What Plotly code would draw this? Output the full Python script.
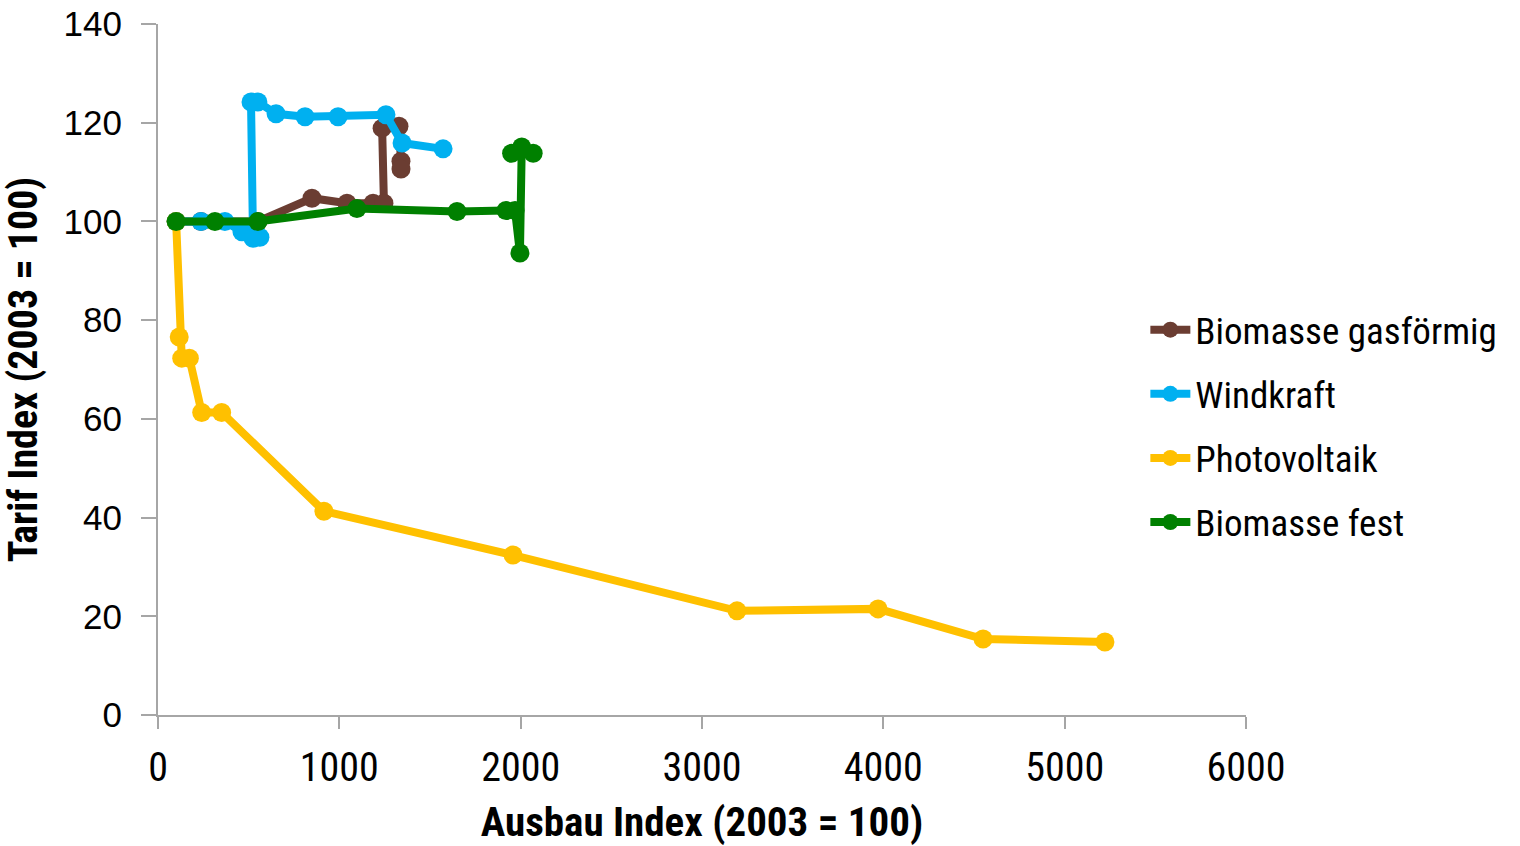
import plotly.graph_objects as go

# Ausbau-Index (x) und Tarif-Index (y), jeweils 2003 = 100
bio_gas_x = [100, 237, 551, 849, 1042, 1186, 1246, 1236, 1329, 1340, 1340]
bio_gas_y = [100, 100, 100, 104.7, 103.7, 103.7, 103.7, 118.9, 119.3, 112.2, 110.6]

wind_x = [100, 237, 369, 463, 562, 524, 513, 551, 651, 811, 993, 1257, 1346, 1572]
wind_y = [100, 100, 100, 97.9, 96.8, 96.6, 124.2, 124.2, 121.8, 121.2, 121.2, 121.6, 115.9, 114.7]

pv_x = [100, 117, 131, 173, 241, 351, 915, 1958, 3193, 3971, 4550, 5222]
pv_y = [100, 76.6, 72.3, 72.3, 61.3, 61.3, 41.3, 32.4, 21.1, 21.5, 15.4, 14.8]

bio_fest_x = [100, 314, 551, 1097, 1649, 1919, 1969, 1996, 2006, 1950, 2069]
bio_fest_y = [100, 100, 100, 102.6, 102.0, 102.2, 102.2, 93.6, 115.1, 113.8, 113.8]

x_ticks = [0, 1000, 2000, 3000, 4000, 5000, 6000]
y_ticks = [0, 20, 40, 60, 80, 100, 120, 140]

series = [
    ("Biomasse gasförmig", bio_gas_x, bio_gas_y, "#6B3D32"),
    ("Windkraft", wind_x, wind_y, "#00B0F0"),
    ("Photovoltaik", pv_x, pv_y, "#FFC000"),
    ("Biomasse fest", bio_fest_x, bio_fest_y, "#008000"),
]

NARROW = "Roboto Condensed, Liberation Sans Narrow, sans-serif"
REGULAR = "Liberation Sans, Arial, sans-serif"

fig = go.Figure()
for name, xs, ys, color in series:
    fig.add_trace(go.Scatter(
        x=xs, y=ys, name=name, legendgroup=name, mode="lines+markers",
        line=dict(color=color, width=8),
        marker=dict(color=color, size=19),
    ))

axis_color = "#A6A6A6"
fig.update_layout(
    width=1520, height=846,
    paper_bgcolor="white", plot_bgcolor="white",
    margin=dict(l=158, r=274, t=24, b=131),
    font=dict(family=NARROW, color="black"),
    legend=dict(
        x=0.9075, y=0.418, xanchor="left", yanchor="middle",
        font=dict(family=NARROW, size=37, color="black"),
        bgcolor="rgba(0,0,0,0)", borderwidth=0,
        itemwidth=40, tracegroupgap=13,
    ),
    xaxis=dict(
        range=[0, 6000], tickvals=x_ticks, ticktext=[str(v) for v in x_ticks],
        showgrid=False, zeroline=False, automargin=False,
        showline=True, linecolor=axis_color, linewidth=2,
        ticks="outside", ticklen=12, tickcolor=axis_color, tickwidth=1.5,
        ticklabelstandoff=4,
        tickfont=dict(family=NARROW, size=40, color="black"),
        title=dict(text="<b>Ausbau Index (2003 = 100)</b>", standoff=19,
                   font=dict(family=NARROW, size=41, color="black")),
    ),
    yaxis=dict(
        range=[0, 140], tickvals=y_ticks, ticktext=[str(v) for v in y_ticks],
        showgrid=False, zeroline=False, automargin=False,
        showline=True, linecolor=axis_color, linewidth=2,
        ticks="outside", ticklen=15, tickcolor=axis_color, tickwidth=1.5,
        ticklabelstandoff=12,
        tickfont=dict(family=REGULAR, size=35, color="black"),
        title=dict(text="<b>Tarif Index (2003 = 100)</b>", standoff=14,
                   font=dict(family=NARROW, size=40, color="black")),
    ),
)

fig.write_html("out.html")
